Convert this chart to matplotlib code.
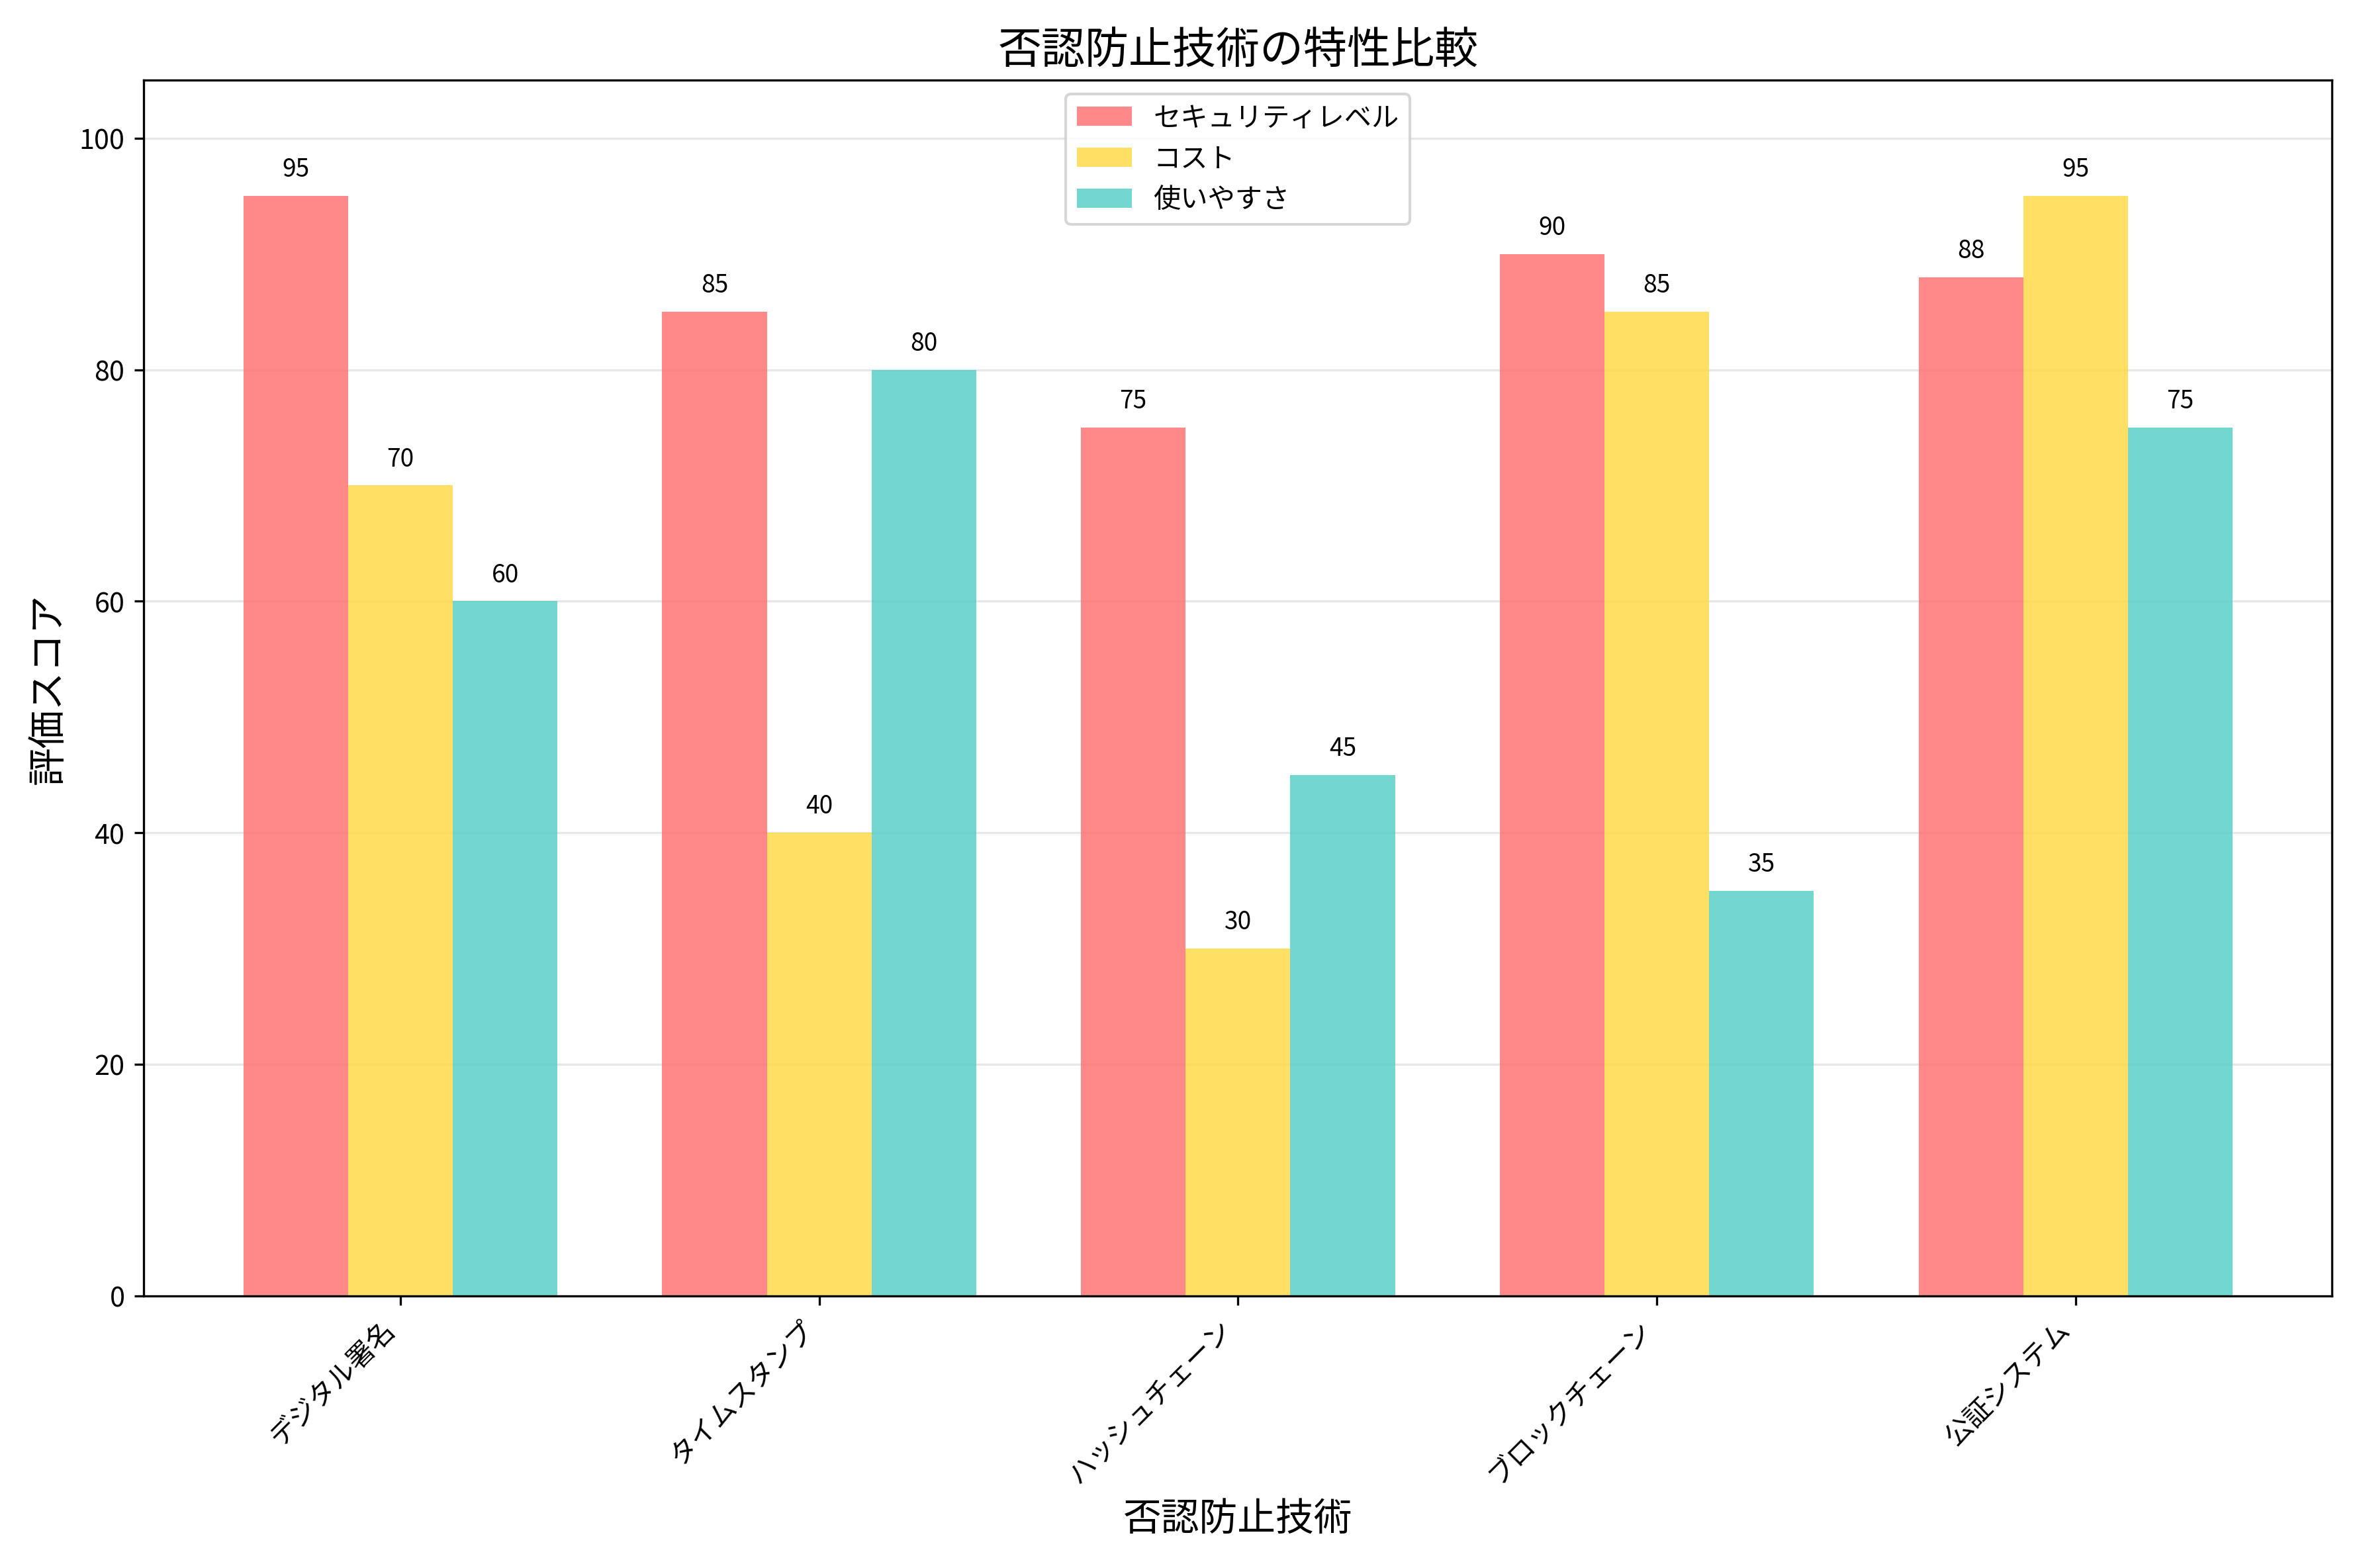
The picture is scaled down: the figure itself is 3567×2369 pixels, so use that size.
import matplotlib
matplotlib.use("Agg")
import matplotlib.pyplot as plt
import numpy as np

plt.rcParams['font.family'] = ['Noto Sans CJK JP', 'DejaVu Sans']

categories = ['デジタル署名', 'タイムスタンプ', 'ハッシュチェーン', 'ブロックチェーン', '公証システム']
series_names = ['セキュリティレベル', 'コスト', '使いやすさ']
security = [95, 85, 75, 90, 88]
cost = [70, 40, 30, 85, 95]
usability = [60, 80, 45, 35, 75]
colors = ['#FF6B6B', '#FFD93D', '#4ECDC4']

fig, ax = plt.subplots(figsize=(12, 7.97), dpi=297.33)
x = np.arange(len(categories))
w = 0.25
for i, (vals, name, c) in enumerate(zip([security, cost, usability], series_names, colors)):
    bars = ax.bar(x + (i - 1) * w, vals, w, label=name, color=c, alpha=0.8)
    for b, v in zip(bars, vals):
        ax.annotate(f'{v}', (b.get_x() + b.get_width() / 2, v), xytext=(0, 5),
                    textcoords='offset points', ha='center', va='bottom', fontsize=9)

ax.set_title('否認防止技術の特性比較', fontsize=16)
ax.set_xlabel('否認防止技術', fontsize=14)
ax.set_ylabel('評価スコア', fontsize=14)
ax.set_xticks(x)
ax.set_xticklabels(categories, rotation=45, ha='right')
ax.set_ylim(0, 105)
ax.yaxis.grid(True, alpha=0.3)
ax.set_axisbelow(True)
ax.legend(loc='upper center')
fig.tight_layout()
fig.savefig('out.png')
